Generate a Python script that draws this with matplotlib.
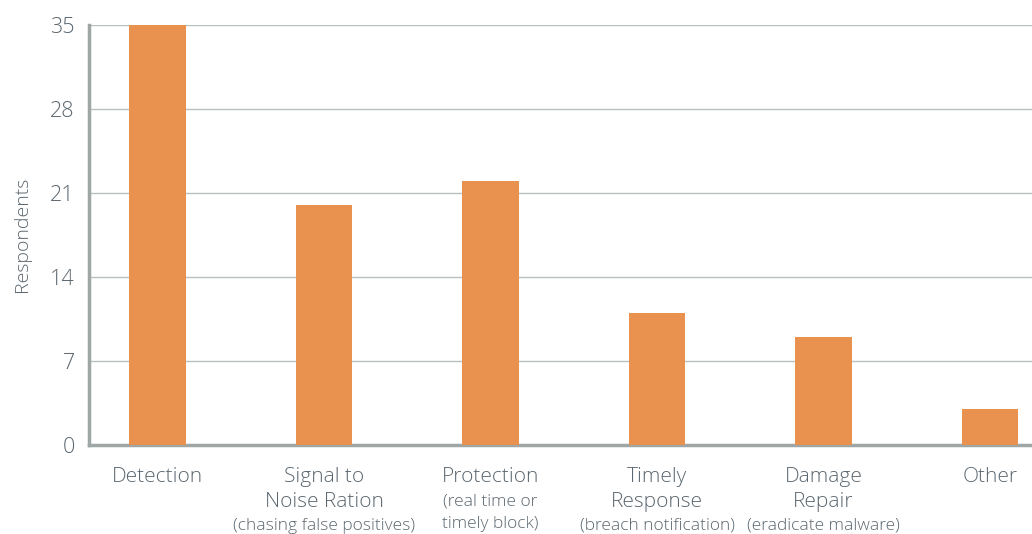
import matplotlib
matplotlib.use("Agg")
import matplotlib.pyplot as plt
import matplotlib.transforms as mtransforms

categories = ["Detection", "Signal to\nNoise Ration", "Protection", "Timely\nResponse", "Damage\nRepair", "Other"]
subtitles = ["", "(chasing false positives)", "(real time or\ntimely block)", "(breach notification)", "(eradicate malware)", ""]
values = [35, 20, 22, 11, 9, 3]
yticks = [0, 7, 14, 21, 28, 35]

plt.rcParams['font.family'] = ['Open Sans', 'DejaVu Sans']
plt.rcParams['font.weight'] = 'light'
text_color = "#5b6770"
bar_color = "#E9924F"

fig = plt.figure(figsize=(10.32, 5.34), dpi=100)
ax = fig.add_axes([0.086, 0.1667, 0.914, 0.787])
x = list(range(len(categories)))
ax.bar(x, values, width=0.34, color=bar_color, zorder=3)
ax.set_xlim(-0.414, 5.252)
ax.set_ylim(0, 35)
ax.set_yticks(yticks)
ax.set_yticklabels([str(v) for v in yticks], fontsize=15.5, color=text_color, fontweight='light')
ax.tick_params(axis='y', length=0, pad=10)
ax.set_xticks([])
ax.grid(axis='y', color="#b9c0c0", linewidth=1, zorder=0)
for s in ["top", "right"]:
    ax.spines[s].set_visible(False)
for s in ["left", "bottom"]:
    ax.spines[s].set_color("#9ea6a6")
    ax.spines[s].set_linewidth(2.5)
ax.set_ylabel("Respondents", fontsize=14, color=text_color, labelpad=14, fontweight='light')

trans = mtransforms.blended_transform_factory(ax.transData, fig.transFigure)
for xi, cat, sub in zip(x, categories, subtitles):
    main_lines = cat.split("\n")
    for k, line in enumerate(main_lines):
        yy = 477 + 25 * k
        ax.text(xi, 1 - yy/534, line, transform=trans, ha='center', va='center',
                fontsize=15, color=text_color, fontweight='light')
    if sub:
        parts = sub.split("\n")
        ys = [501, 524] if len(parts) == 2 else [526]
        for yy, p in zip(ys, parts):
            ax.text(xi, 1 - yy/534, p, transform=trans, ha='center', va='center',
                    fontsize=12.5, color=text_color, fontweight='light')

fig.savefig("out.png", dpi=100)
